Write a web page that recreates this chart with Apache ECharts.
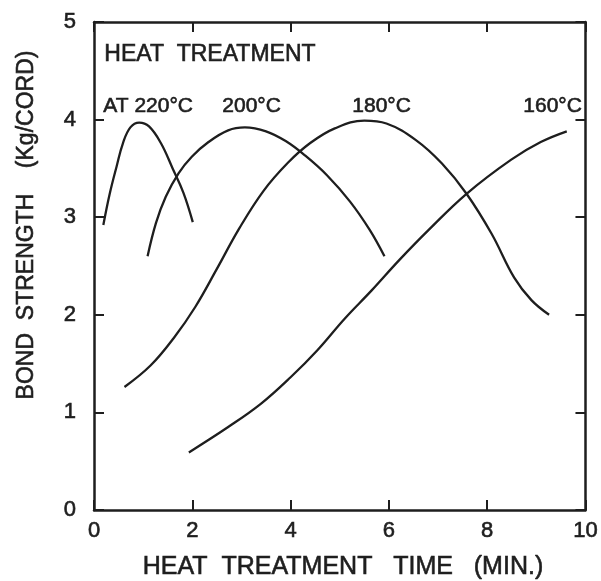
<!DOCTYPE html>
<html><head><meta charset="utf-8">
<script src="https://cdn.jsdelivr.net/npm/echarts@6/dist/echarts.min.js"></script>
<style>html,body{margin:0;padding:0;background:#fff}#c{width:601px;height:581px}</style>
</head><body><div id="c"></div>
<script>
var xTicks = [0, 2, 4, 6, 8, 10];
var yTicks = [0, 1, 2, 3, 4, 5];
var seriesNames = ['220°C', '200°C', '180°C', '160°C'];
var t220 = [[0.19,2.92],[0.32,3.24],[0.46,3.52],[0.59,3.76],[0.74,3.92],[0.92,3.97],[1.12,3.93],[1.36,3.76],[1.60,3.50],[1.82,3.25],[2.01,2.95]];
var t200 = [[1.09,2.60],[1.26,2.94],[1.46,3.21],[1.72,3.45],[1.99,3.62],[2.33,3.77],[2.73,3.89],[3.07,3.92],[3.50,3.88],[3.90,3.78],[4.30,3.63],[4.74,3.43],[5.21,3.16],[5.61,2.87],[5.91,2.60]];
var t180 = [[0.62,1.26],[1.15,1.48],[1.62,1.76],[2.06,2.08],[2.50,2.47],[2.95,2.88],[3.45,3.27],[3.95,3.56],[4.40,3.76],[4.90,3.91],[5.50,3.99],[5.95,3.96],[6.55,3.79],[7.08,3.55],[7.58,3.24],[8.09,2.83],[8.55,2.38],[8.90,2.15],[9.26,2.00]];
var t160 = [[1.93,0.59],[2.73,0.85],[3.40,1.09],[4.00,1.36],[4.55,1.64],[5.10,1.96],[5.65,2.25],[6.21,2.56],[6.81,2.87],[7.58,3.24],[8.49,3.59],[9.09,3.77],[9.62,3.88]];
var curves = [t220, t200, t180, t160];

var ink = '#1e1e1e';
var font = 'Liberation Sans';
var chart = echarts.init(document.getElementById('c'), null, {renderer:'canvas'});
function mkAxis(pos, min, max, interval, showLabel, margin){
  return {
    type:'value', position:pos, min:min, max:max, interval:interval,
    axisLine:{show:true, onZero:false, lineStyle:{color:ink, width:2.5}},
    axisTick:{show:true, inside:true, length:10, lineStyle:{color:ink, width:2}},
    splitLine:{show:false},
    axisLabel:{show:showLabel, color:ink, fontSize:22, fontFamily:font, margin:margin,
      textBorderColor:ink, textBorderWidth:0.6}
  };
}
var tStyle = function(txt, size){
  return {text:txt, font:size+'px "Liberation Sans"', fill:ink, stroke:ink, lineWidth:0.6};
};
var opt = {
  animation:false,
  backgroundColor:'#fff',
  grid:{left:94, right:9, top:22, bottom:71},
  xAxis:[ mkAxis('bottom',0,10,2,true,10), mkAxis('top',0,10,2,false,8) ],
  yAxis:[ mkAxis('left',0,5,1,true,18), mkAxis('right',0,5,1,false,8) ],
  series: curves.map(function(d,i){
    return {name:seriesNames[i], type:'line', data:d, smooth:0.4, symbol:'none',
      lineStyle:{color:ink, width:2.3}};
  }),
  graphic:[
    {type:'text', left:104, top:43, style:tStyle('HEAT  TREATMENT', 23)},
    {type:'text', left:103, top:95, style:tStyle('AT 220°C', 21)},
    {type:'text', left:222, top:95, style:tStyle('200°C', 21)},
    {type:'text', left:352, top:95, style:tStyle('180°C', 21)},
    {type:'text', left:523, top:95, style:tStyle('160°C', 21)},
    {type:'text', x:343, y:567, style:Object.assign(tStyle('HEAT  TREATMENT   TIME   (MIN.)', 25), {align:'center', verticalAlign:'middle'})},
    {type:'text', x:27, y:225, rotation:Math.PI/2, style:Object.assign(tStyle('BOND  STRENGTH    (Kg/CORD)', 23), {align:'center', verticalAlign:'middle'})}
  ]
};
chart.setOption(opt);
</script></body></html>
